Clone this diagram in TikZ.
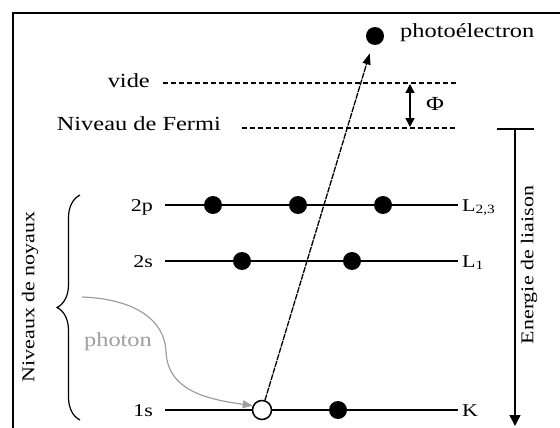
\documentclass[tikz,border=0pt]{standalone}
\usepackage{fontspec}
\setmainfont[FakeStretch=1.22]{Liberation Serif}
\usetikzlibrary{arrows.meta, decorations.pathreplacing}

\definecolor{photongray}{gray}{0.62}

\begin{document}
\begin{tikzpicture}[x=1pt, y=-1pt,
                every node/.style={font=\fontsize{20}{24}\selectfont, inner sep=0pt},
                electron/.style={circle, fill=black, minimum size=18pt},
                hole/.style={circle, draw, line width=1.5pt, fill=white, minimum size=19pt},
                lvl/.style={font=\fontsize{18}{22}\selectfont, text height=12pt, text depth=0pt},
                leftlbl/.style={lvl, anchor=east, inner xsep=12pt},
                rightlbl/.style={lvl, anchor=west, inner xsep=4pt},
                level/.style={line width=1.5pt},
                vacuumline/.style={line width=1.2pt, dash pattern=on 5pt off 3pt},
                sidelbl/.style={rotate=90, font=\fontsize{18}{22}\selectfont}
            ]
                \useasboundingbox (0,0) rectangle (560,428);
                \draw[line width=2.5pt] (13,440) -- (13,13) -- (570,13);

                % vide, Fermi
                \node[electron] (photo) at (375,36) {};
                \node[anchor=base west] (lblphoto) at (400,38) {photoélectron};
                \node[anchor=base east] (lblvide) at (150,88) {vide};
                \node[anchor=base east] (lblfermi) at (221,130) {Niveau de Fermi};
                \coordinate (vide-a) at (163,83);
                \coordinate (vide-b) at (457,83);
                \coordinate (fermi-a) at (242,128);
                \coordinate (fermi-b) at (457,128);
                \draw[vacuumline] (vide-a) -- (vide-b);
                \draw[vacuumline] (fermi-a) -- (fermi-b);
                \coordinate (phi-top) at (410,84);
                \coordinate (phi-bot) at (410,127);
                \draw[line width=1.5pt, {Triangle[length=9pt,width=9pt]}-{Triangle[length=9pt,width=9pt]}] (phi-top) -- (phi-bot);
                \node (lblphi) at (435,104) {Φ};

                % energie de liaison
                \coordinate (bind-top) at (515,128);
                \coordinate (bind-bot) at (515,426);
                \draw[line width=1.5pt, {Bar[width=37pt]}-{Triangle[length=11pt,width=11pt]}] (bind-top) -- (bind-bot);
                \node[sidelbl] (lblbind) at (529,265) {Energie de liaison};

                % niveaux
                \node[leftlbl] (lbl2p) at (165,205) {2p};
                \node[rightlbl] (lblL23) at (458,205) {L\textsubscript{2,3}};
                \node[leftlbl] (lbl2s) at (165,261) {2s};
                \node[rightlbl] (lblL1) at (458,261) {L\textsubscript{1}};
                \node[leftlbl] (lbl1s) at (165,410) {1s};
                \node[rightlbl] (lblK) at (458,410) {K};
                \draw[level] (lbl2p) -- (lblL23);
                \draw[level] (lbl2s) -- (lblL1);
                \draw[level] (lbl1s) -- (lblK);
                \node[electron] (e2p1) at (213,205) {};
                \node[electron] (e2p2) at (298,205) {};
                \node[electron] (e2p3) at (383,205) {};
                \node[electron] (e2s1) at (242,261) {};
                \node[electron] (e2s2) at (352,261) {};
                \node[hole] (h1s) at (262,410) {};
                \node[electron] (e1s) at (338,410) {};

                \draw[line width=1.3pt, dash pattern=on 6pt off 1pt, -{Triangle[length=11pt,width=8pt]}, shorten >=9pt] (h1s) -- (photo);

                % photon
                \coordinate (brace-bot) at (80,420);
                \coordinate (brace-top) at (80,195);
                \draw[line width=1.2pt, decorate, decoration={brace, amplitude=23pt}] (brace-bot) -- (brace-top);
                \node[sidelbl] (lblcore) at (30,297) {Niveaux de noyaux};
                \coordinate (photon-a) at (82,297);
                \draw[photongray, line width=1.2pt, -{Triangle[length=10pt,width=8pt]}] (photon-a) .. controls (135,299) and (165,320) .. (166,352) .. controls (168,390) and (205,399) .. (h1s.155);
                \node[text=photongray] (lblphoton) at (118,342) {photon};
            \end{tikzpicture}
\end{document}
